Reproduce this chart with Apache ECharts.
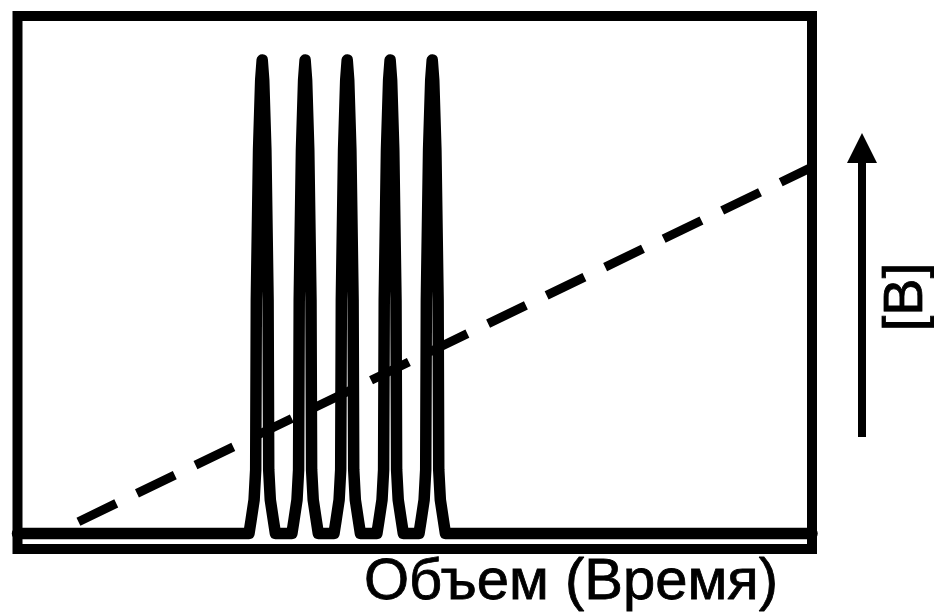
<!DOCTYPE html>
<html>
<head>
<meta charset="utf-8">
<script src="https://cdn.jsdelivr.net/npm/echarts@6/dist/echarts.min.js"></script>
<style>html,body{margin:0;padding:0;background:#fff;}#c{width:934px;height:613px;}</style>
</head>
<body>
<div id="c"></div>
<script>
// Elution trace (volume/time vs detector signal)
var traceX = [0,
  29.14,29.40,29.78,29.98,30.06,30.34,30.61,30.80,30.99,31.26,31.54,31.62,31.82,32.20,32.46,
  34.54,34.80,35.18,35.38,35.46,35.74,36.01,36.20,36.39,36.66,36.94,37.02,37.22,37.60,37.86,
  39.84,40.10,40.48,40.68,40.76,41.04,41.31,41.50,41.69,41.96,42.24,42.32,42.52,42.90,43.16,
  45.24,45.50,45.88,46.08,46.16,46.44,46.71,46.90,47.09,47.36,47.64,47.72,47.92,48.30,48.56,
  50.54,50.80,51.18,51.38,51.46,51.74,52.01,52.20,52.39,52.66,52.94,53.02,53.22,53.60,53.86,
  100];
var traceY = [0,
  0,2.6,6.5,12.3,45.1,74.1,87.6,91.5,87.6,74.1,45.1,12.3,6.5,2.6,0,
  0,2.6,6.5,12.3,45.1,74.1,87.6,91.5,87.6,74.1,45.1,12.3,6.5,2.6,0,
  0,2.6,6.5,12.3,45.1,74.1,87.6,91.5,87.6,74.1,45.1,12.3,6.5,2.6,0,
  0,2.6,6.5,12.3,45.1,74.1,87.6,91.5,87.6,74.1,45.1,12.3,6.5,2.6,0,
  0,2.6,6.5,12.3,45.1,74.1,87.6,91.5,87.6,74.1,45.1,12.3,6.5,2.6,0,
  0];
// Gradient of [B] (dashed line)
var gradientX = [7.67, 100];
var gradientY = [2.28, 70.8];

var xLabel = 'Объем (Время)';
var gradLabel = '[B]';

var traceData = traceX.map(function (x, i) { return [x, traceY[i]]; });
var gradData = gradientX.map(function (x, i) { return [x, gradientY[i]]; });

var chart = echarts.init(document.getElementById('c'), null, {renderer: 'canvas'});
chart.setOption({
  animation: false,
  backgroundColor: '#fff',
  grid: {left: 17.5, right: 122, top: 16, bottom: 64, show: true,
         borderColor: '#000', borderWidth: 10, backgroundColor: 'transparent'},
  xAxis: {type: 'value', min: 0, max: 100,
          axisLine: {show: false}, axisTick: {show: false},
          axisLabel: {show: false}, splitLine: {show: false}},
  yAxis: {type: 'value', min: -3, max: 100,
          axisLine: {show: false}, axisTick: {show: false},
          axisLabel: {show: false}, splitLine: {show: false}},
  series: [
    {type: 'line', data: traceData, symbol: 'none', clip: false,
     lineStyle: {color: '#000', width: 11.5, join: 'round', cap: 'round'}, z: 3},
    {type: 'line', data: gradData, symbol: 'none', clip: false,
     lineStyle: {color: '#000', width: 9, type: [42, 23], cap: 'butt'}, z: 2}
  ],
  graphic: [
    {type: 'line', shape: {x1: 862, y1: 437, x2: 862, y2: 158},
     style: {stroke: '#000', lineWidth: 8}},
    {type: 'polygon', shape: {points: [[862, 133], [847, 163], [877, 163]]},
     style: {fill: '#000'}},
    {type: 'text', x: 907, y: 297, rotation: Math.PI / 2,
     style: {text: gradLabel, fill: '#000', stroke: '#000', lineWidth: 0.8,
             font: '56px "Liberation Sans", Arial, sans-serif',
             align: 'center', verticalAlign: 'middle'}},
    {type: 'text', x: 778, y: 583,
     style: {text: xLabel, fill: '#000', stroke: '#000', lineWidth: 0.8,
             font: '58px "Liberation Sans", Arial, sans-serif',
             align: 'right', verticalAlign: 'middle'}}
  ]
});
</script>
</body>
</html>
